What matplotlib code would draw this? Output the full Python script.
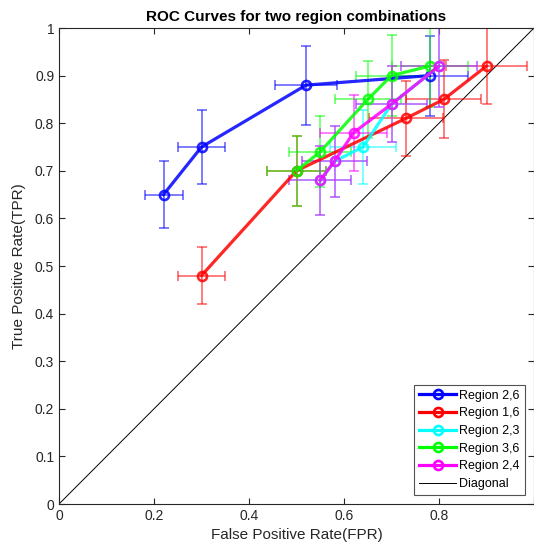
import matplotlib
matplotlib.use("Agg")
import matplotlib.pyplot as plt
import numpy as np

plt.rcParams['font.family'] = ['Liberation Sans', 'DejaVu Sans']

# ---- data ----
labels = ["Region 2,6", "Region 1,6", "Region 2,3", "Region 3,6", "Region 2,4"]
colors = ["#0000ff", "#ff0000", "#00ffff", "#00ff00", "#ff00ff"]

fpr_26 = [0.22, 0.30, 0.52, 0.78]
tpr_26 = [0.65, 0.75, 0.88, 0.90]
xerr_26 = [0.04, 0.05, 0.065, 0.08]
yerr_26 = [0.07, 0.077, 0.083, 0.084]

fpr_16 = [0.30, 0.50, 0.73, 0.81, 0.90]
tpr_16 = [0.48, 0.70, 0.81, 0.85, 0.92]
xerr_16 = [0.05, 0.063, 0.078, 0.079, 0.085]
yerr_16 = [0.06, 0.074, 0.079, 0.082, 0.08]

fpr_23 = [0.55, 0.58, 0.64, 0.70, 0.80]
tpr_23 = [0.68, 0.72, 0.75, 0.84, 0.92]
xerr_23 = [0.065, 0.068, 0.07, 0.074, 0.08]
yerr_23 = [0.072, 0.074, 0.077, 0.08, 0.085]

fpr_36 = [0.50, 0.55, 0.65, 0.70, 0.78]
tpr_36 = [0.70, 0.74, 0.85, 0.90, 0.92]
xerr_36 = [0.063, 0.065, 0.07, 0.075, 0.08]
yerr_36 = [0.074, 0.075, 0.081, 0.085, 0.085]

fpr_24 = [0.55, 0.58, 0.62, 0.70, 0.80]
tpr_24 = [0.68, 0.72, 0.78, 0.84, 0.92]
xerr_24 = [0.065, 0.068, 0.07, 0.074, 0.08]
yerr_24 = [0.072, 0.074, 0.08, 0.08, 0.085]

series = [
    (fpr_26, tpr_26, xerr_26, yerr_26),
    (fpr_16, tpr_16, xerr_16, yerr_16),
    (fpr_23, tpr_23, xerr_23, yerr_23),
    (fpr_36, tpr_36, xerr_36, yerr_36),
    (fpr_24, tpr_24, xerr_24, yerr_24),
]

xticks = [0, 0.2, 0.4, 0.6, 0.8, 1.0]
xticklabels = ["0", "0.2", "0.4", "0.6", "0.8", ""]
yticks = [0, 0.1, 0.2, 0.3, 0.4, 0.5, 0.6, 0.7, 0.8, 0.9, 1.0]
yticklabels = ["0", "0.1", "0.2", "0.3", "0.4", "0.5", "0.6", "0.7", "0.8", "0.9", "1"]

# ---- figure ----
fig = plt.figure(figsize=(5.34, 5.56), dpi=100)
ax = fig.add_axes([59/534, 52/556, 475/534, 476/556])

axcol = "#262626"
handles = []
for (x, y, xe, ye), c, lab in zip(series, colors, labels):
    ax.errorbar(x, y, xerr=xe, yerr=ye, fmt='none', ecolor=c, alpha=0.55,
                elinewidth=1.3, capsize=3.5, capthick=1.3, zorder=2)
    h, = ax.plot(x, y, '-o', color=c, lw=2.3, ms=6.5, mfc='none', mew=1.9,
                 alpha=0.85, label=lab, zorder=3)
    handles.append(h)

hd, = ax.plot([0, 1], [0, 1], color='black', lw=0.7, label='Diagonal', zorder=1)
handles.append(hd)

ax.set_xlim(0, 1)
ax.set_ylim(0, 1)
ax.set_xticks(xticks)
ax.set_xticklabels(xticklabels)
ax.set_yticks(yticks)
ax.set_yticklabels(yticklabels)
ax.tick_params(direction='in', top=True, right=True, length=4, width=0.8,
               colors=axcol, labelsize=10, labelcolor=axcol)
for s in ax.spines.values():
    s.set_color(axcol)
    s.set_linewidth(0.8)

ax.set_title("ROC Curves for two region combinations", fontsize=11,
             fontweight='bold', pad=5)
ax.set_xlabel("False Positive Rate(FPR)", fontsize=11, color=axcol, labelpad=4)
ax.set_ylabel("True Positive Rate(TPR)", fontsize=11, color=axcol, labelpad=6)

leg = ax.legend(handles=handles, loc='lower right', bbox_to_anchor=(0.981, 0.019),
                borderaxespad=0, fontsize=9, frameon=True, fancybox=False,
                edgecolor=axcol, handlelength=2.9, handletextpad=0.3,
                labelspacing=0.45, borderpad=0.4)
leg.get_frame().set_linewidth(0.8)
for lh in leg.legend_handles:
    lh.set_alpha(1.0)

fig.savefig("out.png", dpi=100)
